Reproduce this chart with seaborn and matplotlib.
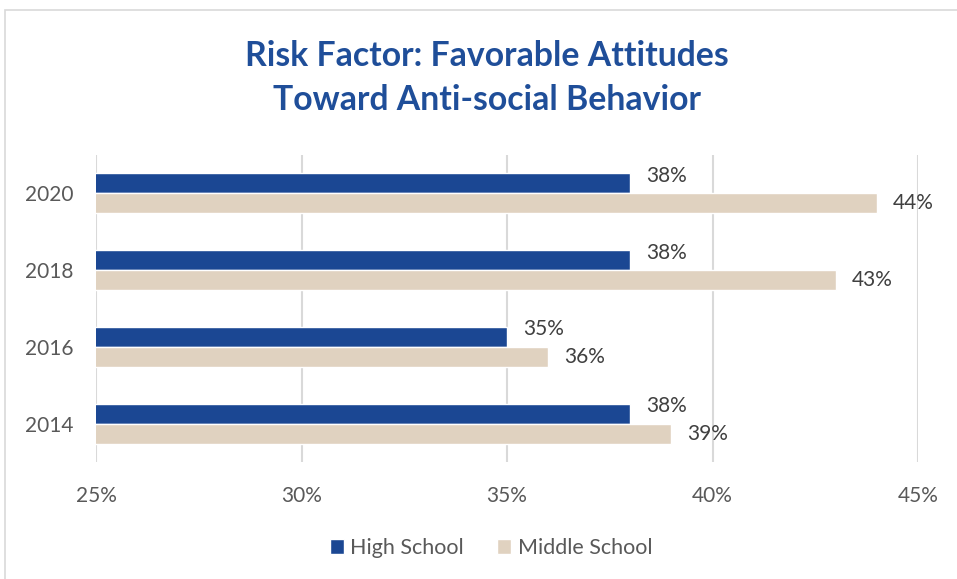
import matplotlib
matplotlib.use("Agg")
import matplotlib.pyplot as plt
from matplotlib.patches import Rectangle
import seaborn as sns
import pandas as pd

years = ["2020", "2018", "2016", "2014"]
high_school = [38, 38, 35, 38]
middle_school = [44, 43, 36, 39]
series_names = ["High School", "Middle School"]
x_ticks = [25, 30, 35, 40, 45]
x_tick_labels = ["25%", "30%", "35%", "40%", "45%"]
title_lines = ["Risk Factor: Favorable Attitudes", "Toward Anti-social Behavior"]

navy = "#1B4793"
beige = "#E0D2C0"
grey_text = "#595959"
label_text = "#404040"
grid_grey = "#D9D9D9"

df = pd.DataFrame({
    "Year": years * 2,
    "Value": high_school + middle_school,
    "Group": [series_names[0]] * len(years) + [series_names[1]] * len(years),
})

sns.set_theme(style="white")
plt.rcParams["font.family"] = ["Lato", "DejaVu Sans"]

W, H = 957, 579
fig = plt.figure(figsize=(W / 100, H / 100), dpi=100)
ax = fig.add_axes([96 / W, 1 - 462 / H, (918 - 96) / W, (462 - 155) / H])

sns.barplot(data=df, y="Year", x="Value", hue="Group", order=years,
            hue_order=series_names, palette=[navy, beige], orient="h",
            width=0.52, saturation=1, ax=ax, legend=True)

ax.set_xlim(25, 45)
ax.set_xticks(x_ticks)
ax.set_xticklabels(x_tick_labels)
ax.grid(axis="x", color=grid_grey, linewidth=1.5)
ax.set_axisbelow(True)
for s in ax.spines.values():
    s.set_visible(False)
ax.set_xlabel("")
ax.set_ylabel("")
ax.tick_params(axis="both", length=0, colors=grey_text, labelsize=15)
ax.tick_params(axis="x", pad=17)
ax.tick_params(axis="y", pad=16.5)

# value labels: outside the bar end, high-school labels sit slightly higher
for i, cont in enumerate(ax.containers):
    anns = ax.bar_label(cont, labels=[f"{v:.0f}%" for v in cont.datavalues],
                        padding=11.5, fontsize=15, color=label_text)
    if i == 0:
        for a in anns:
            a.xyann = (11.5, 5.5)

handles, labels = ax.get_legend_handles_labels()
ax.get_legend().remove()
leg = fig.legend(handles, labels, loc="center left",
                 bbox_to_anchor=(330 / W, 1 - 548 / H), borderpad=0,
                 borderaxespad=0, ncol=2, frameon=False, fontsize=15.5,
                 handlelength=0.65, handleheight=0.65, columnspacing=1.55,
                 handletextpad=0.3)
for t in leg.get_texts():
    t.set_color(grey_text)

for line, base in zip(title_lines, [66, 110]):
    fig.text(487 / W, 1 - base / H, line, ha="center", va="baseline",
             fontsize=24.3, fontweight="bold", color="#1F4E99")

fig.patches.append(Rectangle((5 / W, -0.1), 1.2, 1 - 10 / H + 0.1,
                             transform=fig.transFigure, fill=False,
                             edgecolor="#D9D9D9", linewidth=1.2))

fig.savefig("out.png", dpi=100)
